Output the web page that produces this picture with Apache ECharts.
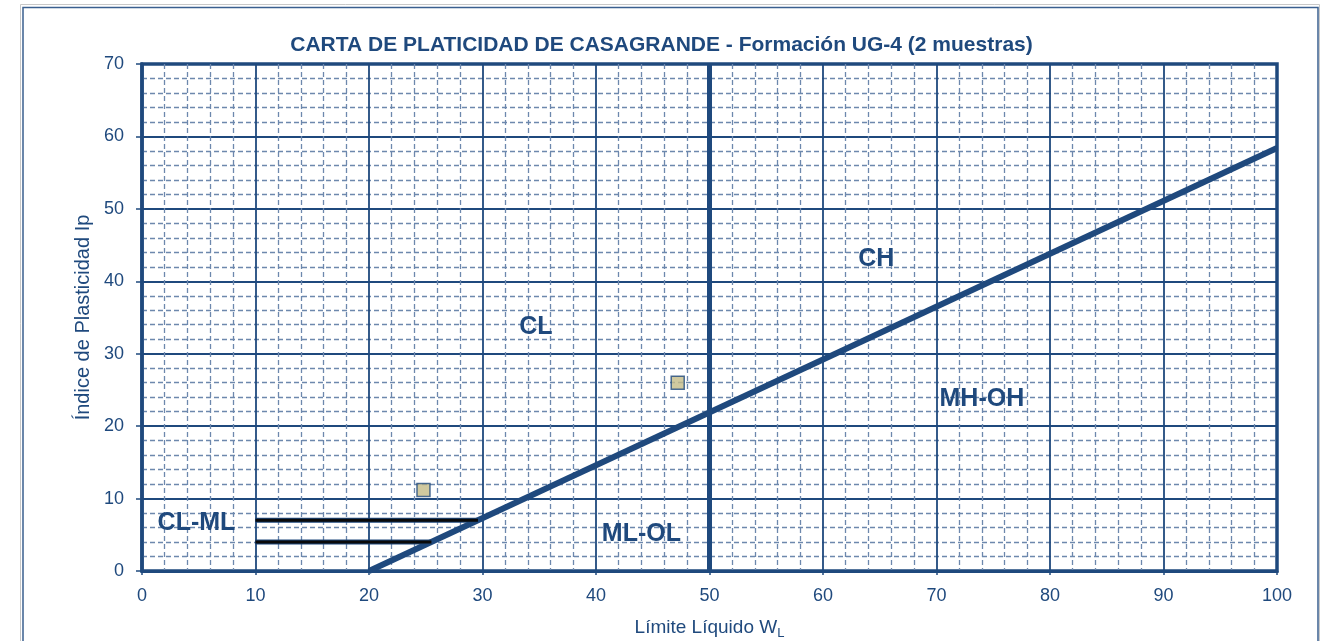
<!DOCTYPE html>
<html><head><meta charset="utf-8">
<script src="https://cdn.jsdelivr.net/npm/echarts@6/dist/echarts.min.js"></script>
<style>html,body{margin:0;padding:0;background:#fff}#c{width:1323px;height:641px}</style>
</head><body><div id="c"></div>
<script>
const titleText = 'CARTA DE PLATICIDAD DE CASAGRANDE - Formación UG-4 (2 muestras)';
const xName = 'Límite Líquido W';
const yName = 'Índice de Plasticidad Ip';
const aLine = [[20, 0], [100, 58.4]];
const uLimit = [[50, 0], [50, 70]];
const clmlTop = [[10, 7], [29.6, 7]];
const clmlBottom = [[10, 4], [25.5, 4]];
const samples = [[24.8, 11.2], [47.2, 26.0]];
const zoneNames = ['CL', 'CH', 'MH-OH', 'ML-OL', 'CL-ML'];
const zoneX = [34.7, 64.7, 74, 44, 4.8];
const zoneY = [33.7, 43.1, 23.8, 5.1, 6.6];

const C = '#1F497D';
const chart = echarts.init(document.getElementById('c'));
chart.setOption({
  animation: false,
  backgroundColor: '#fff',
  title: {
    text: titleText, left: 'center', top: 30,
    textStyle: { fontFamily: 'Liberation Sans', fontSize: 21, fontWeight: 'bold', color: C }
  },
  graphic: [
    { type: 'rect', shape: { x: 20.5, y: 4.5, width: 1299, height: 700 }, style: { fill: 'none', stroke: '#c8c8c8', lineWidth: 1 }, z: -1 },
    { type: 'rect', shape: { x: 23, y: 7.5, width: 1295, height: 700 }, style: { fill: 'none', stroke: '#3A5F8F', lineWidth: 1.5 }, z: -1 }
  ],
  grid: { left: 142, right: 46, top: 64, bottom: 70, containLabel: false, outerBoundsMode: 'none',
    show: true, borderColor: C, borderWidth: 3.5, backgroundColor: 'transparent' },
  xAxis: {
    type: 'value', min: 0, max: 100, interval: 10,
    name: '{m|' + xName + '}{s|L}', nameLocation: 'middle', nameGap: 44,
    nameTextStyle: { rich: {
      m: { fontFamily: 'Liberation Sans', fontSize: 19, color: C },
      s: { fontFamily: 'Liberation Sans', fontSize: 13, color: C, padding: [12, 0, 0, 0] }
    } },
    axisLine: { lineStyle: { color: C, width: 3 } },
    axisTick: { show: true, length: 4, lineStyle: { color: C, width: 1.5 } },
    axisLabel: { fontFamily: 'Liberation Sans', fontSize: 18, color: C, margin: 16 },
    splitLine: { lineStyle: { color: C, width: 1.8 } },
    minorTick: { show: false, splitNumber: 5 },
    minorSplitLine: { show: true, lineStyle: { color: '#6D88AD', width: 1.3, type: [5, 3] } }
  },
  yAxis: {
    type: 'value', min: 0, max: 70, interval: 10,
    name: yName, nameLocation: 'middle', nameGap: 44, nameRotate: 90,
    nameTextStyle: { fontFamily: 'Liberation Sans', fontSize: 20, color: C },
    axisLine: { show: true, lineStyle: { color: C, width: 3.5 } },
    axisTick: { show: true, length: 6, lineStyle: { color: C, width: 1.5 } },
    axisLabel: { fontFamily: 'Liberation Sans', fontSize: 18, color: C, margin: 18 },
    splitLine: { lineStyle: { color: C, width: 1.8 } },
    minorTick: { show: false, splitNumber: 5 },
    minorSplitLine: { show: true, lineStyle: { color: '#6D88AD', width: 1.3, type: [5, 3] } }
  },
  series: [
    { type: 'line', data: aLine, showSymbol: false, lineStyle: { color: C, width: 6 }, z: 3 },
    { type: 'line', data: uLimit, showSymbol: false, lineStyle: { color: C, width: 5 }, z: 3 },
    { type: 'line', data: clmlTop, showSymbol: false, lineStyle: { color: C, width: 5 }, z: 3 },
    { type: 'line', data: clmlTop, showSymbol: false, lineStyle: { color: '#0a0a0a', width: 3 }, z: 4 },
    { type: 'line', data: clmlBottom, showSymbol: false, lineStyle: { color: C, width: 5 }, z: 3 },
    { type: 'line', data: clmlBottom, showSymbol: false, lineStyle: { color: '#0a0a0a', width: 3 }, z: 4 },
    { type: 'scatter', data: samples, symbol: 'rect', symbolSize: 13,
      itemStyle: { color: '#C4BB87', borderColor: C, borderWidth: 1.5 }, z: 5 },
    { type: 'scatter', symbolSize: 1, z: 6, silent: true,
      itemStyle: { color: C, opacity: 1 },
      data: zoneNames.map((n, i) => ({ name: n, value: [zoneX[i], zoneY[i]] })),
      label: { show: true, position: 'inside', formatter: p => p.name,
        fontFamily: 'Liberation Sans', fontSize: 25, fontWeight: 'bold', color: C,
        textBorderWidth: 0, textBorderColor: 'transparent', opacity: 1 } }
  ]
});
</script></body></html>
